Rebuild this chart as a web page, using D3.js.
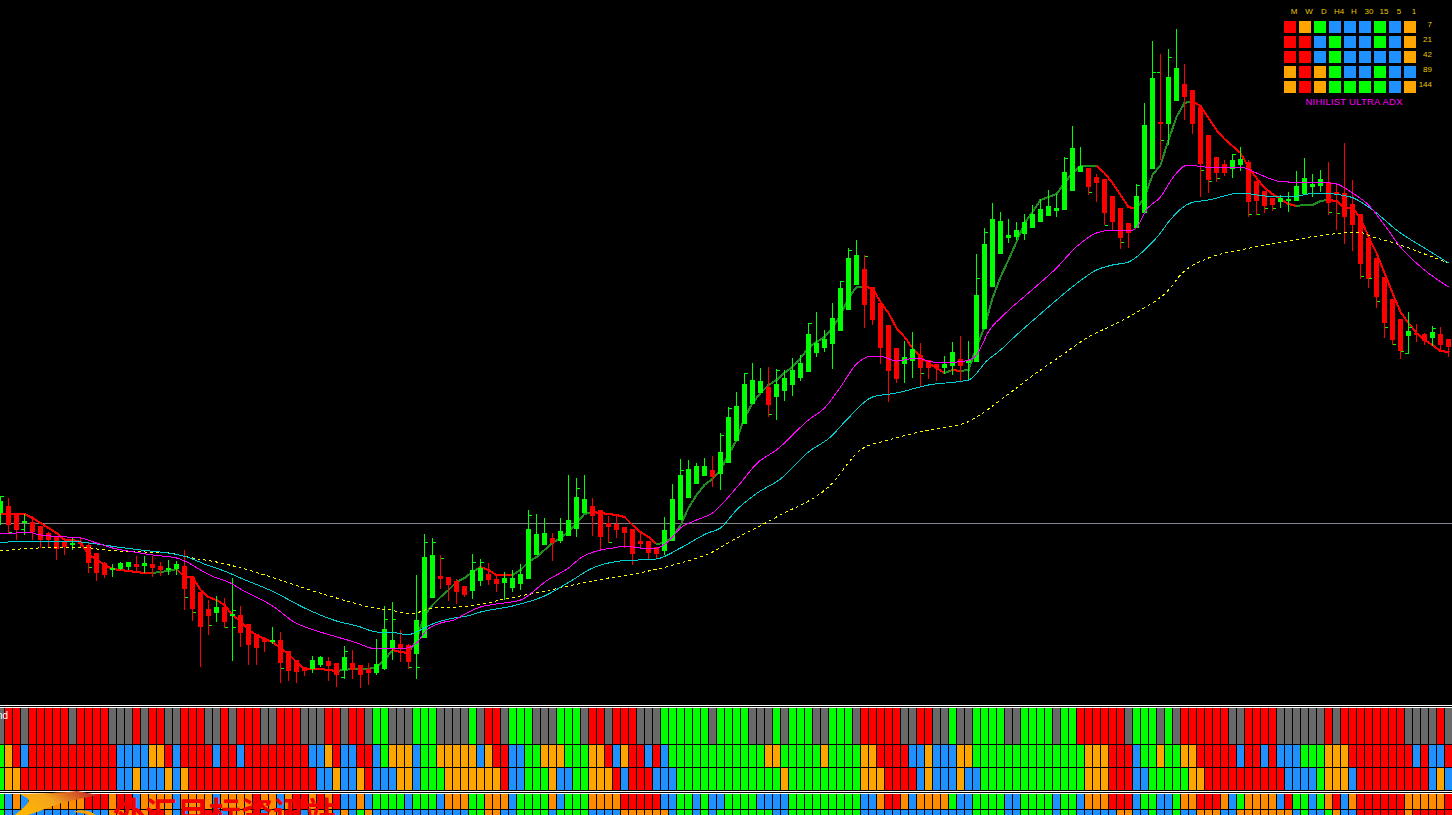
<!DOCTYPE html>
<html><head><meta charset="utf-8">
<script src="https://cdn.jsdelivr.net/npm/d3@7/dist/d3.min.js"></script>
<style>html,body{margin:0;padding:0;background:#000;overflow:hidden}svg{display:block}</style>
</head><body><svg id="c" width="1452" height="815"></svg>
<script>
const candleOpen=[513,506,515,523,522,526,533,537,542,545,542,545,553,563,570,569,567,564,566,564,566,569,569,566,577,592,609,613,607,616,615,624,634,638,642,640,651,660,667,669,665,661,663,670,663,665,669,673,669,649,644,645,654,638,598,576,577,581,586,591,581,574,579,583,588,584,579,555,545,538,541,536,529,513,506,510,523,524,527,529,541,541,547,551,541,520,498,484,476,470,474,463,441,424,404,393,387,397,391,385,378,372,353,348,344,331,310,285,269,287,303,325,348,364,361,355,360,364,368,366,359,363,362,329,287,254,238,237,234,228,222,216,211,210,191,172,168,177,179,196,208,223,228,213,169,122,124,101,84,90,107,135,157,164,169,165,162,181,191,198,202,201,201,194,187,186,182,192,193,204,214,238,258,277,299,319,336,333,334,338,334,339];
const candleClose=[501,525,530,521,532,540,540,549,547,543,544,563,573,575,568,563,562,567,563,568,570,568,564,589,609,627,616,607,622,614,633,645,648,642,640,663,671,672,671,660,657,666,675,657,670,675,673,664,629,640,648,662,620,557,555,579,585,592,595,570,568,580,584,578,578,574,529,534,533,543,531,520,497,499,516,537,527,530,533,554,544,553,554,530,499,475,469,466,466,477,452,417,406,384,380,381,405,384,378,370,363,334,343,339,318,288,258,255,305,320,348,371,379,357,349,368,368,368,364,352,366,360,295,244,219,221,235,230,222,214,209,206,208,172,148,166,187,183,213,222,238,233,196,125,78,124,77,68,97,124,164,180,173,173,160,159,202,201,206,205,198,199,186,178,184,179,203,195,217,225,264,279,297,323,340,351,331,335,341,332,345,347];
const candleHigh=[496,498,515,514,516,526,532,537,538,538,538,542,553,562,564,562,562,556,556,556,562,560,561,550,577,592,600,596,598,578,606,624,634,637,627,632,651,660,667,656,656,657,663,646,650,665,663,639,606,602,630,644,575,534,538,555,577,579,586,554,559,563,576,572,570,564,510,514,518,533,518,475,478,475,498,510,516,516,527,529,532,541,547,517,484,459,460,463,458,456,433,407,392,373,363,368,367,369,370,358,355,323,312,330,303,281,248,240,255,287,303,325,348,341,332,343,360,364,356,342,336,341,254,228,203,212,219,222,214,205,199,190,194,157,126,147,168,174,179,196,208,223,184,103,41,54,49,29,64,90,107,135,157,160,154,147,160,181,191,198,195,192,171,158,174,170,162,185,143,180,214,238,258,277,299,319,312,324,333,326,327,339];
const candleLow=[525,533,540,535,540,548,548,560,555,550,547,573,581,578,577,570,570,572,573,577,576,575,575,610,621,667,635,622,628,661,647,665,665,652,644,683,681,683,676,673,667,681,687,679,679,688,685,675,670,660,662,669,679,638,598,589,601,604,597,599,586,585,592,600,592,590,579,555,545,561,543,536,537,513,536,550,543,538,548,565,549,560,559,555,541,520,498,484,476,487,490,463,441,424,404,393,417,420,401,396,381,372,357,352,369,331,310,285,328,325,364,402,383,383,378,387,379,381,374,375,381,380,362,329,287,254,243,240,240,228,222,216,217,210,191,172,195,202,225,231,249,248,228,213,169,160,145,101,120,134,197,193,182,176,178,171,217,215,213,211,208,212,201,194,197,192,215,230,244,251,279,288,308,338,345,359,354,342,345,346,350,357];
const fastMA=[514,514,514,514,518,523,528,533,540,540,542,555,559,565,569,570,571,572,573,573,572,571,569,577,577,590,597,600,605,615,621,630,635,639,642,648,654,662,669,669,669,670,671,670,669,669,669,667,660,650,652,653,640,615,605,597,590,582,578,572,567,570,575,575,575,570,562,557,550,543,538,532,523,514,512,513,514,515,517,525,532,537,544,543,537,525,508,495,485,479,470,455,440,418,403,393,385,380,373,367,358,348,342,337,328,315,298,287,287,288,302,313,328,337,348,357,363,368,373,370,371,370,347,327,298,277,260,242,223,212,200,197,194,183,173,166,166,166,173,183,195,207,209,197,175,165,140,117,103,101,106,118,130,139,146,153,167,178,188,194,199,204,206,205,205,201,200,201,208,208,218,237,253,273,293,312,323,333,340,345,351,352];
const magentaBars=[0,2,3.3,5,8.3,10,12,14,16.7,19,22,23.3,25,26.7,28.75,30,34.2,36.7,39.6,42.5,44.6,46.25,47,48.75,50.8,52,53.3,55,56.7,58.3,60,62,65,68.4,71,72.5,75,76.6,78,80,82,83.4,85,87,89,91,92.5,94.6,97,101,103,105,107,109,110.4,112,114.6,116.6,119.6,121.6,122.5,123.4,125.4,128.5,132,134.6,137,139,141.6,143.4,145,146.6,148.4,150.6,155,157,159.6,161,164.6,167,169,171,173,175,178,181];
const magentaLevels=[534,533,532,535,537,538,543,548,552,555,558,562,570,577,583,589,607,622,631,638,643,648,649,648,648,643,630,623,620,613,607,604,600,580,568,558,550,548,546,548,548,542,528,520,513,497,483,463,450,420,408,387,364,356,357,361,358,362,362,358,348,333,315,293,268,246,233,230,230,208,197,177,165,167,167,173,181,182,182,184,193,205,225,247,270,287];
const cyanBars=[0,2.5,8.3,12,14.6,17.5,21.7,23.3,25.8,28.3,30,34.2,38,42,44.6,47,49.6,50.8,52.5,54,56.7,58.3,60,64,68,71.5,73.75,77.5,82,85,88.4,90,92,94.6,97.5,101,103.75,105.75,109,112,116,121,123.4,125,126.6,131,134.6,137,139,141,143.4,145,146,148.75,151,155,158,161,164.6,168.75,171,175,178,181];
const cyanLevels=[543,541,541,544,547,550,554,557,565,572,578,592,608,621,626,632,633,635,630,624,618,616,612,606,596,580,569,561,559,548,533,528,510,493,479,452,437,420,397,393,385,380,360,350,338,307,283,270,265,262,247,233,222,203,200,193,196,197,193,197,207,233,248,263];
const yellowBars=[0,2.5,10,13,18,21,24,27,29.6,34.2,38.3,42,44.6,46.7,48.75,51.25,54,57,59.6,62.5,67.5,74.6,81,85,89,91.6,97,103.75,107.5,111,116,120.6,121.6,125,130,132,136,139.6,142.5,146,147.5,151,155,158.75,161,163.75,166.6,169.6,171.6,175,178,181];
const yellowLevels=[551,549,547,550,552,553,558,562,567,578,589,598,604,608,610,614,608,607,605,600,592,580,571,563,552,540,517,485,450,440,430,423,419,400,370,359,337,323,310,290,275,258,250,244,241,237,234,232,237,245,254,263];
const tickBars=[0,1,3,5,11,23,24,26,28,29,29,35,43,43,48,49,51,52,53,54,55,59,60,66,72,76,85,90,91,93,96,97,101,105,106,108,115,122,123,133,136,138,140,142,144,145,145,146,150,151,152,154,156,157,158,159,166,167,170,171,172,173,174,175,176,176,179];
const tickLevels=[496,532,529,541,567,597,612,625,627,610,627,668,651,677,619,619,667,667,542,542,558,562,562,515,488,542,470,435,408,373,414,370,323,281,250,256,373,278,232,158,192,225,242,185,72,72,140,57,170,181,178,154,214,214,208,208,212,213,276,278,301,327,344,351,353,327,328];
const tickSides=[1,1,-1,1,1,1,1,1,1,1,1,1,1,-1,1,1,1,1,1,1,1,1,1,1,1,1,1,1,1,1,1,1,1,1,1,1,1,1,1,1,1,1,1,1,1,-1,1,1,1,1,1,1,1,1,1,1,1,1,1,1,1,1,1,1,-1,1,1];
const stripRuns=[
"Y1 R2 Y1 R5 Y1 R4 Y3 R1 Y1 R2 Y2 R3 Y2 R1 Y1 R3 Y2 R3 Y3 R2 Y1 R2 Y1 G2 Y3 G3 Y4 G1 Y1 R2 Y1 G3 Y3 G3 Y1 R2 Y1 R3 Y3 G6 Y1 G4 Y3 G1 Y1 G3 Y2 G3 Y1 R5 Y2 R2 Y2 G1 Y2 G4 Y2 G4 Y1 G2 R6 Y1 G3 Y1 G1 Y1 R6 Y2 R4 Y6 R1 Y1 R8 Y4 R1 Y1",
"G1 O1 R1 B1 R11 B4 O2 R1 B1 R4 B1 R2 B1 R8 B2 O1 R1 B2 R2 B1 G1 O3 B1 G2 O5 B1 O1 R2 B2 G2 O3 G3 O2 R1 B1 O1 R2 B1 R1 B1 G12 O2 G5 O1 G4 O2 R4 B2 O1 B3 O2 G14 O3 R3 B1 G2 O1 G2 O2 R5 B1 R2 B1 R1 B3 G3 O3 R8 B1 R1 B2 R1",
"G1 O2 R12 B2 O1 B3 O1 B1 O1 R16 B2 O1 B2 O1 R1 B3 O2 B1 G3 O7 R1 B2 G3 O1 B2 G2 O3 R1 B1 R3 B3 G13 O1 G9 O3 R4 B1 O1 B3 O1 B2 G13 O3 R3 B2 G5 O2 R10 B4 G1 O3 B1 R9 B1 O1 B1",
"G1 B1 D1 B2 D6 R3 D1 R2 B1 D4 B1 D4 B1 D4 R1 D2 B1 D1 R2 D1 R1 D1 R1 B2 D1 B1 G4 B1 G3 B1 D3 G2 D3 B1 G4 D1 B1 G3 D4 R5 B2 G2 B1 G1 B2 G4 B4 G9 B2 D1 R2 D1 B1 D4 G1 B2 G4 B2 G4 B1 G2 B1 D3 R3 B1 G2 B2 G1 D2 R3 D1 B1 G1 D4 B1 R1 G2 B1 G1 D1 R1 B1 D1 R6 D5 R1",
"G1 B13 D5 R2 D1 B2 D2 R1 B2 D3 R1 B1 D2 R2 B1 D3 B1 D1 B1 G1 D1 B12 G2 D2 B2 G4 B1 G4 B4 D6 B1 G2 B1 G1 B1 G7 B2 G9 B14 G4 B2 G4 B1 G2 B5 D2 B2 G1 B2 G1 B2 D3 B2 D7 B1 G1 B2 G1 D1 B2 R6 D1 R5"];
const boardColumns=["M","W","D","H4","H","30","15","5","1"];
const boardRows=["7","21","42","89","144"];
const boardCells=["ROGBBBGBO","RRBGBBGBO","RRBGBBBBO","OROGBBGBB","OROGGGGBO"];

// Layout and styling
const palette={R:"#ff0000",G:"#00ff00",B:"#1e90ff",O:"#ffa500",D:"#ff8c00",Y:"#696969"};
const stripTop=[708,745,768,794,810], stripHeight=[36,22,22,15,20];
const svg=d3.select("#c");
const x=d3.scaleLinear().domain([0,181]).range([0.5,1448.5]);
const y=d3.scaleLinear().domain([0,705]).range([0,705]);
const defs=svg.append("defs");
const grad=defs.append("linearGradient").attr("id","wing").attr("x1","0").attr("x2","1").attr("y1","0.6").attr("y2","0.2");
grad.append("stop").attr("offset","0").attr("stop-color","#ffb400");
grad.append("stop").attr("offset","0.45").attr("stop-color","#f2a51c");
grad.append("stop").attr("offset","1").attr("stop-color","#c0282a");

svg.append("rect").attr("width",1452).attr("height",815).attr("fill","#000");
svg.append("rect").attr("x",0).attr("y",523).attr("width",1452).attr("height",1).attr("fill","#85858f");

// fast average: behind the candles, coloured by its direction
const maG=svg.append("g").attr("stroke-width",2).attr("fill","none").attr("stroke-linecap","square").attr("shape-rendering","crispEdges");
let rising=false;
fastMA.forEach((v,i)=>{ if(i==0) return;
  if(v<fastMA[i-1]) rising=true; else if(v>fastMA[i-1]) rising=false;
  maG.append("line").attr("x1",x(i-1)).attr("x2",x(i)).attr("y1",y(fastMA[i-1])).attr("y2",y(v)).attr("stroke",rising?"#228b22":"#ff0000");
});

// candles
const cg=svg.append("g").attr("shape-rendering","crispEdges");
const idx=d3.range(candleOpen.length);
const col=i=>candleClose[i]<candleOpen[i]?"#00ff00":"#ff0000";
cg.selectAll("rect.w").data(idx).join("rect").attr("class","w")
  .attr("x",i=>x(i)-0.5).attr("width",1).attr("y",i=>y(candleHigh[i])).attr("height",i=>y(candleLow[i])-y(candleHigh[i])).attr("fill",col);
cg.selectAll("rect.b").data(idx).join("rect").attr("class","b")
  .attr("x",i=>x(i)-2.5).attr("width",5).attr("y",i=>y(Math.min(candleOpen[i],candleClose[i])))
  .attr("height",i=>Math.max(2,Math.abs(y(candleClose[i])-y(candleOpen[i])))).attr("fill",col);
cg.selectAll("rect.t").data(tickBars).join("rect").attr("class","t")
  .attr("x",(b,i)=>tickSides[i]>0?x(b)+0.5:x(b)-3.5).attr("width",3).attr("y",(b,i)=>y(tickLevels[i])).attr("height",1).attr("fill","#00ff00");

// slow averages: over the candles
const lineOf=(bars,levels)=>d3.line().curve(d3.curveMonotoneX).x((d,i)=>x(bars[i])).y(d=>y(d))(levels);
const lg=svg.append("g").attr("fill","none").attr("stroke-width",1).attr("shape-rendering","crispEdges");
lg.append("path").attr("d",lineOf(yellowBars,yellowLevels)).attr("stroke","#ffff00").attr("stroke-dasharray","3 3");
lg.append("path").attr("d",lineOf(cyanBars,cyanLevels)).attr("stroke","#00ced1");
lg.append("path").attr("d",lineOf(magentaBars,magentaLevels)).attr("stroke","#ff00ff");

// strength strips
const sg=svg.append("g").attr("shape-rendering","crispEdges");
[705,707,791,793].forEach(v=>sg.append("rect").attr("x",0).attr("y",v).attr("width",1452).attr("height",1).attr("fill","#fff"));
stripRuns.forEach((runs,r)=>{
  const cells=runs.split(" ").flatMap(t=>d3.range(+t.slice(1)).map(()=>t[0]));
  sg.append("g").selectAll("rect").data(cells).join("rect")
    .attr("x",(c,k)=>x(k)-3.5).attr("width",7).attr("y",stripTop[r]).attr("height",stripHeight[r]).attr("fill",c=>palette[c]);
});
svg.append("text").attr("x",8).attr("y",719).attr("text-anchor","end").attr("fill","#fff").attr("font-family","Liberation Sans").attr("font-size",10).text("nd");

// watermark
svg.append("path").attr("d","M20 794 C45 793 60 793 77 791 L98 795 C80 799 62 802 50 807 C42 810 35 813 28 815 L15 815 C24 807 32 802 27 798 Z").attr("fill","url(#wing)");
svg.append("path").attr("d","M73 812 C82 808 92 811 97 816 L90 816 C86 813 80 813 73 812 Z").attr("fill","#ffa000");
svg.append("text").attr("x",113).attr("y",825).attr("fill","#f00000").attr("font-family","Noto Sans CJK SC").attr("font-weight",700).attr("font-size",32).text("外汇目标资讯站");

// dashboard
const bx=d3.scaleBand().domain(boardColumns).range([1284,1416]).paddingInner(0.2).paddingOuter(0);
const by=d3.scaleBand().domain(boardRows).range([21,93]).paddingInner(0.2).paddingOuter(0);
const bg=svg.append("g").attr("shape-rendering","crispEdges");
boardRows.forEach((r,ri)=>boardColumns.forEach((c,ci)=>{
  bg.append("rect").attr("x",bx(c)).attr("y",by(r)).attr("width",bx.bandwidth()).attr("height",by.bandwidth()).attr("fill",palette[boardCells[ri][ci]]);
}));
const tg=svg.append("g").attr("font-family","Liberation Sans").attr("font-size",8).attr("fill","#e8c800");
boardColumns.forEach(c=>tg.append("text").attr("x",bx(c)+bx.bandwidth()/2+4).attr("y",14).attr("text-anchor","middle").text(c));
boardRows.forEach(r=>tg.append("text").attr("x",1432).attr("y",by(r)+6).attr("text-anchor","end").text(r));
svg.append("text").attr("x",1354).attr("y",105).attr("text-anchor","middle").attr("fill","#ff00ff").attr("font-family","Liberation Sans").attr("font-size",9.5).attr("textLength",97).text("NIHILIST ULTRA ADX");
</script></body></html>
